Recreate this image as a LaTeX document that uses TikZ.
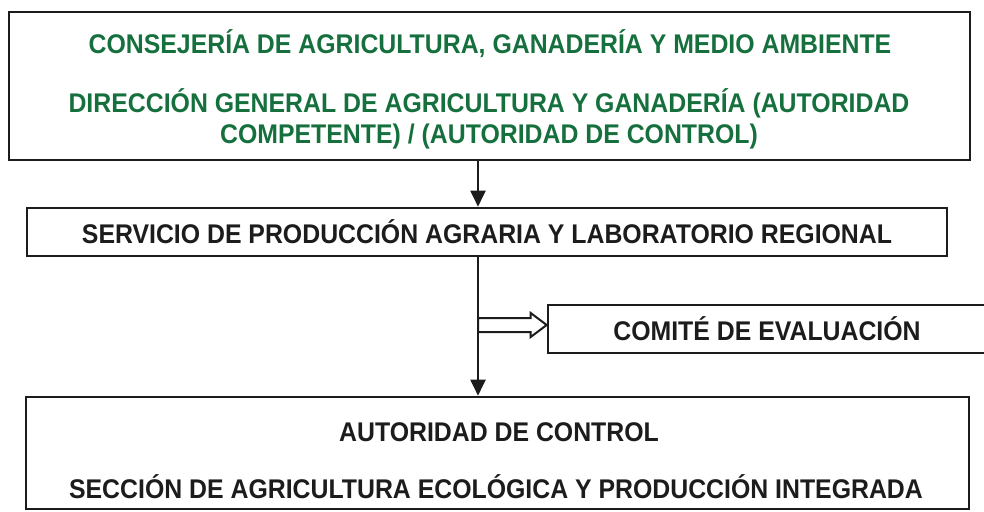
\documentclass[tikz,border=0pt]{standalone}
\usepackage{fontspec}
\setmainfont[FakeStretch=0.92]{Liberation Sans}
\usetikzlibrary{arrows.meta, positioning, calc}
\definecolor{JuntaGreen}{RGB}{22, 112, 62}
\definecolor{InkBlack}{HTML}{1C1C1C}

\begin{document}
\begin{tikzpicture}[x=1pt, y=-1pt,
    orgbox/.style={draw=InkBlack, line width=2.6pt, inner sep=0pt},
    boxtext/.style={inner sep=0pt, font=\fontsize{27}{31}\selectfont\bfseries, color=InkBlack},
    greentext/.style={boxtext, color=JuntaGreen},
    flow/.style={line width=2pt, color=InkBlack, -{Triangle[length=16pt, width=15pt]}}]
    \useasboundingbox (0,0) rectangle (984,511);

    % boxes
    \node[orgbox, minimum width=961pt, minimum height=148pt] (consejeria) at (489.5, 86) {};
    \node[orgbox, minimum width=920pt, minimum height=48pt, boxtext] (servicio) at (487, 232)
        {SERVICIO DE PRODUCCIÓN AGRARIA Y LABORATORIO REGIONAL};
    \node[orgbox, minimum width=438pt, minimum height=48pt, boxtext] (comite) at (767, 329)
        {COMITÉ DE EVALUACIÓN};
    \node[orgbox, minimum width=943pt, minimum height=112pt] (autoridad) at (497.5, 453) {};

    % texts of the large boxes
    \node[greentext] (consejeriaA) at (490, 44) {CONSEJERÍA DE AGRICULTURA, GANADERÍA Y MEDIO AMBIENTE};
    \node[greentext, align=center] (direccion) at (489, 119)
        {DIRECCIÓN GENERAL DE AGRICULTURA Y GANADERÍA (AUTORIDAD\\COMPETENTE) / (AUTORIDAD DE CONTROL)};
    \node[boxtext] (autoridadA) at (499, 432) {AUTORIDAD DE CONTROL};
    \node[boxtext] (seccion) at (496, 487) {SECCIÓN DE AGRICULTURA ECOLÓGICA Y PRODUCCIÓN INTEGRADA};

    % connectors
    \coordinate (spine) at (478, 0);
    \coordinate (fork) at (478, 325);
    \draw[flow] (consejeria.south -| spine) -- (servicio.north -| spine);
    \draw[flow] (servicio.south -| spine) -- (autoridad.north -| spine);
    \draw[line width=2pt, color=InkBlack, line join=miter, fill=white]
        ($(fork)+(0,-7)$) -- ($(comite.west |- fork)+(-16,-7)$) -- ++(0,-5)
        -- (comite.west |- fork) -- ($(comite.west |- fork)+(-16,12)$) -- ++(0,-5)
        -- ($(fork)+(0,7)$) -- cycle;
\end{tikzpicture}
\end{document}
